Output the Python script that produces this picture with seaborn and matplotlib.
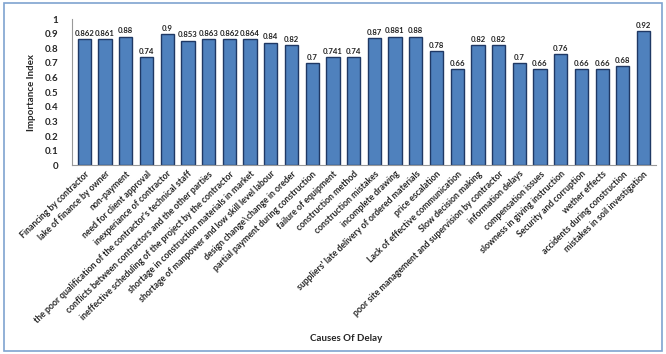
import matplotlib
matplotlib.use("Agg")
import matplotlib.pyplot as plt
import seaborn as sns
import pandas as pd
from matplotlib.patches import Rectangle

causes = [
    "Financing by contractor",
    "lake of finance by owner",
    "non-payment",
    "need for client approval",
    "inexperiance of contractor",
    "the poor qualification of the contractor's technical staff",
    "conflicts between contractors and the other parties",
    "ineffective scheduling of the project by the contractor",
    "shortage in construction materials in market",
    "shortage of manpower and low skill level labour",
    "design change\\change in oreder",
    "partial payment during construction",
    "failure of equipment",
    "construction method",
    "construction mistakes",
    "incomplete drawing",
    "suppliers' late delivery of ordered materials",
    "price escalation",
    "Lack of effective communication",
    "Slow decision making",
    "poor site management and supervision by contractor",
    "information delays",
    "compensation issues",
    "slowness in giving instruction",
    "Security and corruption",
    "wether effects",
    "accidents during construction",
    "mistakes in soil investigation",
]
importance = [0.862, 0.861, 0.88, 0.74, 0.9, 0.853, 0.863, 0.862, 0.864, 0.84,
              0.82, 0.7, 0.741, 0.74, 0.87, 0.881, 0.88, 0.78, 0.66, 0.82,
              0.82, 0.7, 0.66, 0.76, 0.66, 0.66, 0.68, 0.92]
value_labels = ["0.862", "0.861", "0.88", "0.74", "0.9", "0.853", "0.863", "0.862",
                "0.864", "0.84", "0.82", "0.7", "0.741", "0.74", "0.87", "0.881",
                "0.88", "0.78", "0.66", "0.82", "0.82", "0.7", "0.66", "0.76",
                "0.66", "0.66", "0.68", "0.92"]
yticks = [0, 0.1, 0.2, 0.3, 0.4, 0.5, 0.6, 0.7, 0.8, 0.9, 1]

df = pd.DataFrame({"cause": causes, "index": importance})

sns.set_style("white")
plt.rcParams["font.family"] = ["Lato", "DejaVu Sans"]

fig = plt.figure(figsize=(6.66, 3.54), dpi=100)
ax = fig.add_axes([0.108, 0.533, 0.877, 0.413])

sns.barplot(data=df, x="cause", y="index", color="#4F81BD", width=0.64,
            edgecolor="#1F3864", linewidth=1.0, saturation=1, ax=ax)

for i, (v, t) in enumerate(zip(importance, value_labels)):
    ax.text(i, v + 0.015, t, ha="center", va="bottom", fontsize=5.6,
            fontweight="bold", color="#222222")

ax.set_ylim(0, 1)
ax.set_xlim(-0.6, len(causes) - 0.4)
ax.set_yticks(yticks)
ax.set_yticklabels([f"{t:g}" for t in yticks], fontsize=7, fontweight="bold")
ax.set_xticks(range(len(causes)))
ax.set_xticklabels(causes, rotation=44, ha="right", rotation_mode="anchor",
                   fontsize=6.3, fontweight="bold")
ax.tick_params(axis="x", length=0, pad=3)
ax.tick_params(axis="y", length=0, pad=10)
ax.set_ylabel("Importance Index", fontsize=7, fontweight="bold", labelpad=6)
ax.set_xlabel("")
for s in ["top", "right"]:
    ax.spines[s].set_visible(False)
ax.spines["left"].set_color("#999999")
ax.spines["bottom"].set_color("#999999")
ax.spines["left"].set_linewidth(0.8)
ax.spines["bottom"].set_linewidth(0.8)

fig.text(0.52, 0.045, "Causes Of Delay", ha="center", va="center",
         fontsize=7, fontweight="bold")

fig.patches.append(Rectangle((0.006, 0.008), 0.988, 0.984, transform=fig.transFigure,
                             fill=False, edgecolor="#7FA3D0", linewidth=1.2))

fig.savefig("out.png", dpi=100)
